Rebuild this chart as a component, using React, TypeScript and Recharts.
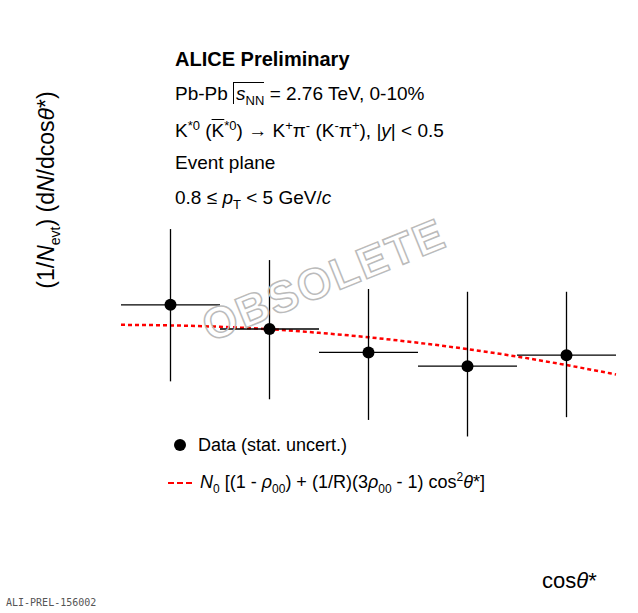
import React from "react";
import { ComposedChart, Scatter, Line, XAxis, YAxis, ErrorBar } from "recharts";

const cosTheta = [0.1, 0.3, 0.5, 0.7, 0.9];
const yields = [31.45, 29.7, 28.0, 27.0, 27.8];
const errUp = [5.5, 5.0, 4.6, 5.4, 4.6];
const errDown = [5.55, 5.1, 4.9, 5.1, 4.5];
const binHalfWidth = [0.1, 0.1, 0.1, 0.1, 0.1];

const fitX = [0, 0.1, 0.2, 0.3, 0.4, 0.5, 0.6, 0.7, 0.8, 0.9, 1.0];
const fitY = [30.0, 29.96, 29.86, 29.68, 29.42, 29.1, 28.7, 28.24, 27.7, 27.08, 26.4];

const xMajor = [0, 0.2, 0.4, 0.6, 0.8, 1];
const yMajor = [20, 30, 40, 50];

const points = cosTheta.map((x, i) => ({
  x,
  y: yields[i],
  ey: [errDown[i], errUp[i]],
  ex: binHalfWidth[i],
}));
const fit = fitX.map((x, i) => ({ x, fy: fitY[i] }));

const font = "'Liberation Sans', Arial, sans-serif";
const W = 638;
const H = 613;
const M = { top: 12, right: 22, bottom: 58, left: 121 };
const LEFT = M.left;
const RIGHT = W - M.right;
const TOP = M.top;
const BOTTOM = H - M.bottom;

const xMinor: number[] = [];
for (let i = 0; i <= 40; i++) xMinor.push(Math.round(i * 25) / 1000);
const yMinor: number[] = [];
for (let v = 14; v <= 52; v += 2) yMinor.push(v);

const isMajorX = (v: number) => xMajor.some((m) => Math.abs(m - v) < 1e-6);

const XTick = (props: any) => {
  const { x, payload, orientation } = props;
  const major = isMajorX(payload.value);
  const len = major ? 14 : 7;
  const top = orientation === "top";
  return (
    <g>
      <line x1={x} x2={x} y1={top ? TOP : BOTTOM} y2={top ? TOP + len : BOTTOM - len} stroke="#000" strokeWidth={1.5} />
      {!top && major && (
        <text x={x} y={BOTTOM + 30} textAnchor="middle" fontSize={21} fontFamily={font}>
          {String(+Number(payload.value).toFixed(1))}
        </text>
      )}
    </g>
  );
};

const YTick = (props: any) => {
  const { y, payload, orientation } = props;
  const major = yMajor.includes(payload.value);
  const len = major ? 14 : 7;
  const right = orientation === "right";
  return (
    <g>
      <line y1={y} y2={y} x1={right ? RIGHT : LEFT} x2={right ? RIGHT - len : LEFT + len} stroke="#000" strokeWidth={1.5} />
      {!right && major && (
        <text x={LEFT - 10} y={y + 8} textAnchor="end" fontSize={21} fontFamily={font}>
          {payload.value}
        </text>
      )}
    </g>
  );
};

const txt: React.CSSProperties = { position: "absolute", fontFamily: font, fontSize: 19, whiteSpace: "nowrap", color: "#000" };
const sub: React.CSSProperties = { fontSize: 13 };

export default function App() {
  return (
    <div style={{ position: "absolute", left: 0, top: 0, width: W, height: H, background: "#fff" }}>
      <ComposedChart width={W} height={H} margin={M}>
        <XAxis xAxisId="b" dataKey="x" type="number" height={0} domain={[0, 1]} ticks={xMinor} tick={<XTick />} tickLine={false} interval={0} stroke="#000" strokeWidth={1.5} />
        <XAxis xAxisId="t" orientation="top" type="number" height={0} domain={[0, 1]} ticks={xMinor} tick={<XTick orientation="top" />} tickLine={false} interval={0} stroke="#000" strokeWidth={1.5} />
        <YAxis yAxisId="l" type="number" width={0} domain={[13.3, 52.7]} ticks={yMinor} tick={<YTick />} tickLine={false} interval={0} stroke="#000" strokeWidth={1.5} />
        <YAxis yAxisId="r" orientation="right" type="number" width={0} domain={[13.3, 52.7]} ticks={yMinor} tick={<YTick orientation="right" />} tickLine={false} interval={0} stroke="#000" strokeWidth={1.5} />
        <Line xAxisId="b" yAxisId="l" data={fit} dataKey="fy" type="monotone" stroke="#ff0000" strokeWidth={2.5} strokeDasharray="4 3" dot={false} isAnimationActive={false} />
        <Scatter xAxisId="b" yAxisId="l" data={points} dataKey="y" fill="#000" shape={(p: any) => <circle cx={p.cx} cy={p.cy} r={6} fill="#000" />} isAnimationActive={false}>
          <ErrorBar dataKey="ey" direction="y" width={0} stroke="#000" strokeWidth={1.3} />
          <ErrorBar dataKey="ex" direction="x" width={0} stroke="#000" strokeWidth={1.3} />
        </Scatter>
      </ComposedChart>

      <div style={{ ...txt, left: 175, top: 48, fontWeight: "bold", fontSize: 20 }}>ALICE Preliminary</div>
      <div style={{ ...txt, left: 175, top: 83 }}>
        Pb-Pb <span style={{ borderTop: "1px solid #000", borderLeft: "1px solid #000", paddingLeft: 2 }}><i>s</i><sub style={sub}>NN</sub></span> = 2.76 TeV, 0-10%
      </div>
      <div style={{ ...txt, left: 175, top: 118 }}>
        K<sup style={sub}>*0</sup> (<span style={{ textDecoration: "overline" }}>K</span><sup style={sub}>*0</sup>) → K<sup style={sub}>+</sup>π<sup style={sub}>-</sup> (K<sup style={sub}>-</sup>π<sup style={sub}>+</sup>), |<i>y</i>| &lt; 0.5
      </div>
      <div style={{ ...txt, left: 175, top: 152 }}>Event plane</div>
      <div style={{ ...txt, left: 175, top: 187 }}>
        0.8 ≤ <i>p</i><sub style={sub}>T</sub> &lt; 5 GeV/<i>c</i>
      </div>

      <div style={{ ...txt, left: 174, top: 435, fontSize: 18 }}>
        <span style={{ display: "inline-block", width: 12, height: 12, borderRadius: 6, background: "#000", marginRight: 12 }} />
        Data (stat. uncert.)
      </div>
      <div style={{ ...txt, left: 168, top: 470, fontSize: 18 }}>
        <span style={{ display: "inline-block", width: 24, borderTop: "2.5px dashed #ff0000", verticalAlign: "middle", marginRight: 8 }} />
        <i>N</i><sub style={{ fontSize: 12 }}>0</sub> [(1 - <i>ρ</i><sub style={{ fontSize: 12 }}>00</sub>) + (1/R)(3<i>ρ</i><sub style={{ fontSize: 12 }}>00</sub> - 1) cos<sup style={{ fontSize: 12 }}>2</sup><i>θ</i>*]
      </div>

      <div style={{ ...txt, left: 195, top: 255, fontSize: 44, fontWeight: "bold", color: "transparent", WebkitTextStroke: "1.5px #bbb", transform: "rotate(-22deg)", transformOrigin: "center", letterSpacing: 2 }}>
        OBSOLETE
      </div>

      <div style={{ ...txt, left: 48, top: 190, fontSize: 23, transform: "translate(-50%, -50%) rotate(-90deg)" }}>
        (1/<i>N</i><sub style={{ fontSize: 14 }}>evt</sub>) (d<i>N</i>/dcos<i>θ</i>*)
      </div>
      <div style={{ ...txt, left: 542, top: 568, fontSize: 22 }}>
        cos<i>θ</i>*
      </div>
      <div style={{ ...txt, left: 6, top: 597, fontSize: 10, fontFamily: "'DejaVu Sans Mono', monospace", color: "#555" }}>ALI-PREL-156002</div>
    </div>
  );
}
